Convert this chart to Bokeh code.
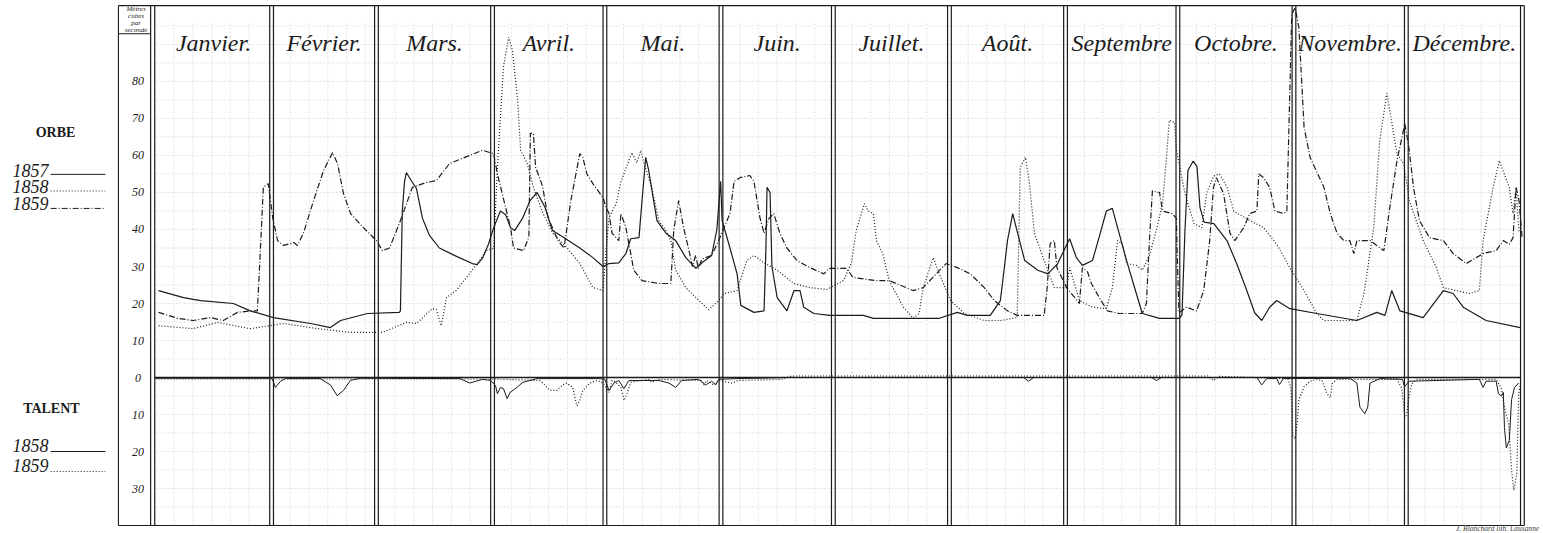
from bokeh.plotting import figure
from bokeh.models import Range1d
from bokeh.embed import file_html
from bokeh.resources import INLINE
from bokeh.core.properties import value

# ---------------- data ----------------
month_names = ["Janvier.", "Février.", "Mars.", "Avril.", "Mai.", "Juin.", "Juillet.",
               "Août.", "Septembre", "Octobre.", "Novembre.", "Décembre."]
month_start_day = [0, 31, 59, 90, 120, 151, 181, 212, 243, 273, 304, 334, 365]

y_tick_values = [80, 70, 60, 50, 40, 30, 20, 10, 0, -10, -20, -30]
y_tick_labels = ["80", "70", "60", "50", "40", "30", "20", "10", "0", "10", "20", "30"]
unit_label_lines = ["Mètres", "cubes", "par", "seconde"]

# Orbe : (day of year, m3/s)
orbe_1857 = [(0.8, 23.5), (7.5, 21.6), (12.0, 20.8), (20.8, 20.0), (25.3, 18.0), (31.5, 16.2), (41.4, 14.6),
             (46.7, 13.5), (49.4, 15.4), (56.6, 17.3), (65.1, 17.6), (65.4, 18.0), (65.9, 45.0), (66.5, 53.0),
             (67.0, 55.4), (68.1, 53.5), (69.7, 51.0), (71.3, 43.0), (73.1, 38.5), (75.8, 35.0), (79.8, 33.0),
             (84.6, 30.8), (85.9, 30.5), (87.4, 32.4), (88.9, 36.0), (90.3, 40.5), (92.1, 45.0), (93.5, 44.0),
             (94.8, 40.5), (95.9, 39.7), (98.0, 43.0), (100.0, 47.8), (101.9, 50.0), (104.0, 46.0),
             (106.0, 39.7), (108.8, 38.0), (113.3, 35.0), (116.8, 32.4), (119.5, 30.0), (121.1, 30.8),
             (123.7, 31.0), (125.6, 33.5), (126.9, 37.5), (129.1, 37.8), (130.1, 50.0), (130.9, 59.5),
             (131.7, 56.0), (132.5, 51.0), (133.9, 42.4), (136.3, 39.0), (138.9, 37.0), (141.6, 32.4),
             (144.3, 29.5), (145.9, 31.0), (148.5, 33.0), (149.9, 40.0), (150.9, 53.0), (151.3, 42.4),
             (153.4, 35.0), (155.3, 28.0), (156.3, 19.5), (159.8, 17.6), (162.5, 18.0), (163.0, 35.0),
             (163.3, 51.4), (164.1, 50.0), (164.6, 30.0), (166.0, 21.6), (168.6, 18.0), (170.5, 23.5),
             (172.1, 23.5), (173.1, 19.0), (175.8, 17.3), (180.1, 16.8), (189.0, 16.8), (191.7, 16.0),
             (209.3, 16.0), (214.1, 17.6), (216.8, 16.8), (222.9, 16.8), (225.6, 20.8), (226.7, 30.0),
             (227.5, 37.0), (228.9, 44.3), (230.2, 39.0), (232.1, 31.6), (235.6, 29.0), (238.3, 28.0),
             (240.9, 30.8), (244.1, 37.5), (245.9, 32.4), (247.5, 30.3), (250.2, 31.6), (252.0, 38.0),
             (253.9, 45.0), (255.5, 45.7), (256.9, 40.5), (259.3, 31.6), (261.9, 22.7), (263.5, 17.3),
             (268.1, 16.0), (273.4, 16.0), (274.1, 17.0), (274.9, 40.0), (275.7, 56.0), (277.1, 58.5),
             (278.1, 57.0), (278.9, 46.0), (280.0, 42.0), (282.6, 41.6), (286.1, 37.0), (288.7, 30.8),
             (291.4, 23.5), (293.5, 17.5), (295.4, 15.4), (297.5, 19.0), (299.4, 20.8), (302.9, 18.6),
             (310.1, 17.3), (320.8, 15.4), (326.1, 17.6), (328.3, 16.8), (330.1, 23.5), (332.3, 18.0),
             (338.5, 16.2), (343.9, 23.5), (346.5, 22.7), (349.2, 19.0), (355.3, 15.4), (364.4, 13.5)]

orbe_1858 = [(0.8, 14.0), (10.1, 13.2), (16.5, 14.9), (25.3, 13.2), (34.2, 14.6), (43.3, 13.2), (52.1, 12.2),
             (60.6, 12.2), (67.0, 14.9), (69.7, 14.6), (73.9, 18.6), (75.0, 18.3), (76.3, 14.0), (77.7, 21.6),
             (80.3, 23.5), (83.8, 28.0), (86.5, 31.6), (88.3, 34.3), (90.3, 34.9), (91.3, 56.8), (92.9, 83.8),
             (94.3, 92.0), (95.3, 88.4), (96.7, 74.9), (97.5, 61.4), (99.3, 57.8), (100.9, 51.4),
             (103.5, 44.3), (106.1, 39.0), (109.9, 35.0), (113.3, 30.8), (116.8, 24.3), (119.5, 23.5),
             (120.3, 34.3), (121.1, 43.2), (123.0, 47.0), (124.3, 53.0), (127.2, 60.8), (128.5, 58.0),
             (129.6, 61.4), (130.4, 58.0), (132.5, 51.4), (134.4, 42.4), (136.3, 39.7), (137.6, 37.0),
             (138.9, 29.0), (141.6, 24.3), (145.1, 20.8), (147.7, 18.3), (150.4, 20.8), (151.8, 22.7),
             (155.3, 23.5), (157.9, 31.6), (159.8, 33.0), (162.5, 31.0), (166.0, 29.0), (170.5, 25.4),
             (174.7, 24.3), (179.3, 23.8), (183.7, 26.2), (185.8, 30.8), (187.1, 39.7), (189.3, 47.0),
             (190.3, 45.0), (191.7, 44.3), (192.5, 37.0), (194.2, 33.5), (195.9, 26.2), (199.7, 19.0),
             (202.3, 16.0), (203.9, 17.3), (205.0, 24.3), (207.7, 32.4), (209.3, 28.0), (212.3, 20.8),
             (216.0, 17.3), (221.3, 15.4), (225.6, 15.4), (230.1, 16.2), (230.9, 56.8), (232.3, 59.5),
             (233.3, 53.0), (234.7, 39.0), (237.3, 31.6), (240.0, 24.3), (243.3, 24.3), (244.1, 29.7),
             (244.9, 27.0), (246.7, 20.8), (250.2, 19.0), (253.9, 18.6), (255.5, 24.3), (256.9, 37.0),
             (258.2, 36.0), (259.3, 30.8), (261.9, 30.3), (263.5, 29.0), (265.4, 33.0), (267.3, 40.0),
             (268.9, 47.0), (270.0, 60.0), (270.7, 69.5), (272.1, 69.0), (272.7, 61.0), (274.9, 49.7),
             (277.3, 41.6), (279.4, 40.5), (280.7, 50.0), (282.6, 54.5), (284.1, 55.0), (286.1, 51.5),
             (287.9, 45.0), (292.2, 42.4), (295.9, 40.5), (299.4, 36.0), (302.9, 29.7), (306.7, 23.5),
             (310.1, 17.3), (312.0, 15.4), (320.8, 15.4), (322.7, 22.7), (325.3, 40.5), (326.9, 64.0),
             (328.8, 76.8), (330.6, 66.0), (331.5, 60.5), (333.3, 57.8), (334.8, 47.8), (338.5, 37.0),
             (342.0, 29.7), (343.9, 24.3), (347.3, 23.5), (350.8, 22.7), (353.5, 23.5), (354.5, 37.0),
             (357.2, 51.4), (358.8, 58.6), (361.5, 51.4), (362.5, 44.3), (363.3, 51.4), (364.1, 39.0)]

orbe_1859 = [(0.8, 17.6), (5.9, 16.0), (10.1, 15.4), (14.7, 16.2), (18.1, 15.4), (21.9, 17.6), (25.3, 18.0),
             (27.2, 18.0), (28.0, 34.3), (28.8, 51.4), (30.1, 52.4), (31.3, 43.2), (32.6, 37.0), (34.2, 35.7),
             (36.1, 36.2), (36.9, 36.5), (37.9, 35.7), (39.5, 39.0), (42.2, 47.8), (44.9, 56.0), (47.3, 60.8),
             (48.6, 57.8), (50.2, 49.7), (52.1, 44.3), (55.5, 40.5), (59.0, 37.0), (60.6, 34.3), (62.5, 35.0),
             (65.1, 41.6), (68.6, 51.4), (72.3, 52.7), (75.0, 53.2), (78.5, 57.8), (83.8, 60.0), (87.3, 61.4),
             (90.3, 60.5), (91.3, 55.0), (94.8, 40.5), (95.6, 35.0), (98.3, 34.3), (99.7, 38.0), (100.1, 66.0),
             (100.9, 66.0), (101.5, 56.8), (102.9, 53.0), (103.4, 51.4), (104.8, 43.2), (107.5, 37.0),
             (109.1, 35.0), (110.9, 47.8), (113.3, 60.5), (114.1, 59.5), (115.2, 55.0), (116.8, 52.4),
             (119.5, 48.6), (120.3, 46.0), (121.1, 44.3), (121.9, 39.0), (123.7, 37.0), (124.3, 44.3),
             (125.6, 40.5), (126.9, 33.5), (127.7, 29.0), (129.9, 26.2), (134.4, 25.4), (137.6, 25.4),
             (138.4, 40.0), (139.7, 47.8), (141.0, 40.5), (142.3, 35.0), (143.4, 30.0), (144.2, 33.0),
             (145.0, 29.5), (145.9, 32.0), (148.5, 33.0), (150.4, 37.0), (151.8, 40.5), (153.4, 44.3),
             (154.5, 53.0), (156.1, 54.0), (158.7, 54.6), (159.8, 53.0), (161.4, 43.2), (162.5, 39.0),
             (163.8, 43.0), (165.1, 44.3), (166.7, 39.0), (168.6, 35.0), (171.3, 31.6), (174.7, 29.7),
             (178.5, 28.0), (179.8, 29.5), (181.8, 29.5), (184.5, 29.5), (186.3, 27.0), (192.5, 26.2),
             (195.9, 26.2), (202.3, 23.5), (205.0, 24.3), (211.1, 30.8), (214.1, 29.7), (217.6, 28.0),
             (221.3, 24.3), (224.0, 20.8), (227.5, 18.0), (230.1, 16.8), (237.3, 16.8), (238.1, 24.3),
             (238.9, 36.2), (240.0, 37.0), (240.7, 29.7), (243.3, 24.3), (246.7, 20.0), (247.5, 29.7),
             (248.9, 28.5), (249.9, 25.4), (252.0, 21.6), (254.2, 18.0), (257.3, 17.3), (263.5, 17.3),
             (264.6, 20.0), (265.4, 37.0), (266.2, 50.5), (268.1, 50.0), (268.9, 45.0), (271.5, 44.3),
             (272.6, 43.0), (272.9, 30.0), (273.3, 17.5), (275.3, 19.0), (278.0, 18.0), (279.9, 23.5),
             (281.5, 37.0), (282.5, 51.4), (283.3, 54.0), (285.2, 49.7), (286.9, 39.0), (288.2, 37.0),
             (290.6, 40.5), (292.2, 44.3), (294.1, 45.0), (294.6, 55.0), (295.9, 54.0), (297.5, 51.4),
             (298.9, 45.0), (301.3, 44.3), (302.1, 45.0), (303.4, 98.0), (304.3, 100.0), (305.3, 94.6),
             (306.7, 67.6), (308.3, 59.5), (312.0, 51.4), (313.7, 44.3), (315.5, 39.0), (317.3, 37.0),
             (318.9, 37.0), (320.0, 33.5), (320.8, 37.0), (324.3, 37.0), (327.0, 35.0), (328.0, 34.3),
             (329.6, 46.0), (331.5, 58.6), (333.6, 68.6), (334.8, 61.4), (335.9, 51.4), (337.5, 42.4),
             (340.2, 37.8), (343.9, 37.0), (346.5, 33.5), (350.0, 30.8), (352.7, 32.4), (354.5, 33.5),
             (358.0, 34.3), (359.9, 37.0), (361.5, 36.0), (362.5, 37.8), (363.3, 51.4), (364.1, 47.8),
             (364.9, 38.0)]

# Talent : (day of year, m3/s) -- drawn downward from the zero line
talent_1858 = [(0.0, 0.2), (31.0, 0.2), (31.5, 1.2), (32.0, 2.7), (33.4, 1.0), (34.7, 0.3), (44.0, 0.3),
               (46.7, 2.0), (48.5, 4.9), (50.2, 3.5), (52.0, 0.8), (54.7, 0.2), (81.3, 0.3), (83.9, 1.5),
               (87.3, 0.5), (89.5, 0.8), (90.8, 2.2), (91.3, 4.4), (92.1, 2.7), (92.9, 3.0), (93.9, 5.7),
               (94.7, 4.0), (96.5, 2.7), (98.1, 1.3), (101.9, 0.3), (118.7, 0.3), (120.0, 0.5), (121.1, 3.5),
               (122.4, 1.5), (123.7, 0.8), (125.1, 3.0), (126.4, 0.8), (134.4, 0.8), (137.1, 1.5),
               (138.9, 2.7), (140.5, 0.8), (145.0, 0.5), (146.9, 2.0), (148.5, 1.0), (149.6, 2.0),
               (150.4, 0.5), (155.3, 0.3), (168.6, 0.0), (231.8, 0.0), (233.1, 1.0), (234.5, 0.0),
               (266.0, 0.0), (267.3, 0.8), (268.6, 0.0), (294.1, 0.0), (295.4, 2.0), (296.7, 0.3),
               (299.4, 0.3), (300.1, 1.9), (301.2, 0.3), (318.9, 0.2), (320.8, 1.5), (321.6, 8.0),
               (322.9, 9.8), (323.7, 8.0), (324.3, 1.5), (327.0, 0.3), (333.0, 0.5), (333.5, 2.5),
               (334.8, 1.0), (353.5, 0.5), (354.5, 2.7), (355.3, 1.0), (358.0, 1.0), (358.6, 4.4),
               (359.4, 5.0), (359.9, 4.0), (360.2, 13.5), (360.7, 19.0), (361.5, 17.0), (362.1, 6.0),
               (362.9, 2.7), (364.0, 1.5)]

talent_1859 = [(0.0, 0.4), (60.0, 0.4), (90.0, 0.4), (102.6, 0.8), (103.9, 2.0), (105.3, 3.5), (107.1, 3.5),
               (108.7, 2.0), (109.8, 1.5), (111.4, 2.7), (112.5, 7.6), (113.3, 6.2), (114.1, 3.5), (116.0, 1.5),
               (117.9, 0.8), (119.2, 1.3), (120.3, 2.7), (121.1, 4.0), (121.9, 0.8), (122.9, 1.3), (124.3, 2.7),
               (125.1, 6.2), (125.9, 4.4), (126.9, 1.3), (131.7, 0.5), (132.5, 1.3), (134.4, 0.5), (145.9, 0.8),
               (146.4, 2.0), (147.2, 0.8), (149.0, 2.0), (150.4, 0.8), (153.9, 1.5), (155.6, 0.8), (167.1, 0.5),
               (169.8, -0.4), (220.0, -0.4), (260.0, -0.4), (281.0, -0.4), (282.5, 0.8), (284.0, -0.3),
               (302.4, 0.3), (303.2, 3.0), (303.7, 16.0), (304.3, 16.5), (304.9, 12.0), (305.3, 6.0),
               (306.7, 2.5), (308.3, 1.0), (310.1, 0.5), (311.5, 0.8), (312.8, 4.4), (313.7, 5.4),
               (314.2, 1.6), (315.5, 0.5), (331.5, 0.5), (332.8, 3.0), (333.6, 10.8), (334.1, 10.0),
               (334.6, 6.0), (335.5, 1.6), (336.8, 0.5), (352.7, 0.5), (358.0, 0.5), (359.4, 3.0),
               (360.2, 8.0), (361.3, 12.4), (362.1, 25.0), (362.7, 30.5), (363.5, 26.0), (364.0, 4.5),
               (364.6, 1.0)]


def unzip(pairs):
    return [a for a, _ in pairs], [b for _, b in pairs]


# ---------------- styles / layout ----------------
SERIF = value("Liberation Serif")
INK = "#1b1b1b"
GRID = "#c9c9c9"
SOLID = "solid"
DOTTED = "1 2"
DASHDOT = "6 2 1 2"

Y_TOP = 100.5
Y_BOTTOM = -40.0
X_COL_LEFT = -9.9
X_LEFT_DOUBLE = [-1.3, -0.2]
X_RIGHT_DOUBLE = [364.5, 365.5]

p = figure(width=1543, height=533,
           x_range=Range1d(-41.39, 370.63), y_range=Range1d(-42.16, 101.89),
           x_axis_type=None, y_axis_type=None,
           output_backend="svg", toolbar_location=None, min_border=0)
p.outline_line_color = None
p.background_fill_color = "white"
p.border_fill_color = "white"

# fine background grid
hgrid = [v for v in range(-35, 100, 5) if v != 0 and v < 96]
p.segment(x0=[0] * len(hgrid), x1=[364.5] * len(hgrid), y0=hgrid, y1=hgrid,
          line_color=GRID, line_width=0.8, line_dash="2 2", line_alpha=0.75)
vgrid = []
for i in range(12):
    d = month_start_day[i] + 5
    while d < month_start_day[i + 1] - 1:
        vgrid.append(d)
        d += 5
p.segment(x0=vgrid, x1=vgrid, y0=[Y_BOTTOM] * len(vgrid), y1=[96] * len(vgrid),
          line_color=GRID, line_width=0.8, line_dash="2 2", line_alpha=0.75)

# frame
p.segment(x0=[X_COL_LEFT, X_COL_LEFT, X_COL_LEFT, X_COL_LEFT],
          x1=[365.5, 365.5, X_COL_LEFT, -1.3],
          y0=[Y_TOP, Y_BOTTOM, Y_BOTTOM, 92.9],
          y1=[Y_TOP, Y_BOTTOM, Y_TOP, 92.9],
          line_color=INK, line_width=1.1)

# month dividers (double rules)
div_x = list(X_LEFT_DOUBLE)
for d in month_start_day[1:-1]:
    div_x += [d - 0.5, d + 0.5]
div_x += X_RIGHT_DOUBLE
p.segment(x0=div_x, x1=div_x, y0=[Y_BOTTOM] * len(div_x), y1=[Y_TOP] * len(div_x),
          line_color=INK, line_width=1.2)

# zero line
p.segment(x0=[-0.2], x1=[364.5], y0=[0], y1=[0], line_color=INK, line_width=1.4)

# series
for pairs, dash, width in [(orbe_1857, SOLID, 1.2), (orbe_1858, DOTTED, 1.2), (orbe_1859, DASHDOT, 1.2)]:
    xs, ys = unzip(pairs)
    p.line(xs, ys, line_color=INK, line_width=width, line_dash=dash)
for pairs, dash, width in [(talent_1858, SOLID, 1.0), (talent_1859, DOTTED, 1.2)]:
    xs, ys = unzip(pairs)
    p.line(xs, [-v for v in ys], line_color=INK, line_width=width, line_dash=dash)

# month names
month_mid = [(month_start_day[i] + month_start_day[i + 1]) / 2 for i in range(12)]
p.text(x=month_mid, y=[90.3] * 12, text=month_names, text_font=SERIF, text_font_style="italic",
       text_font_size="24px", text_align="center", text_baseline="alphabetic", text_color=INK)

# y tick labels
p.text(x=[-4.7] * len(y_tick_values), y=y_tick_values, text=y_tick_labels, text_font=SERIF,
       text_font_style="italic", text_font_size="12px", text_align="center",
       text_baseline="alphabetic", text_color=INK)

# unit header
p.text(x=[-5.2] * 4, y=[99.6, 97.7, 95.8, 93.8], text=unit_label_lines, text_font=SERIF,
       text_font_style="italic", text_font_size="7px", text_align="center",
       text_baseline="alphabetic", text_color=INK)

# left legend
p.text(x=[-26.7, -27.8], y=[66.2, -8.4], text=["ORBE", "TALENT"], text_font=SERIF,
       text_font_style="bold", text_font_size="14px", text_align="center",
       text_baseline="middle", text_color=INK)
p.text(x=[-38.2] * 5, y=[55.9, 51.6, 47.0, -18.4, -23.8],
       text=["1857", "1858", "1859", "1858", "1859"], text_font=SERIF,
       text_font_style="italic", text_font_size="18px", text_align="left",
       text_baseline="middle", text_color=INK)
for yy, dash in [(54.9, SOLID), (50.4, DOTTED), (45.7, DASHDOT), (-20.0, SOLID), (-25.4, DOTTED)]:
    p.line([-28.0, -13.4], [yy, yy], line_color=INK, line_width=1.0, line_dash=dash)

# lithographer credit
p.text(x=[369.5], y=[-40.85], text=["J. Blanchard lith. Lausanne"], text_font=SERIF,
       text_font_style="italic", text_font_size="7.5px", text_align="right",
       text_baseline="alphabetic", text_color="#444444")

open("out.html", "w").write(file_html(p, INLINE))
